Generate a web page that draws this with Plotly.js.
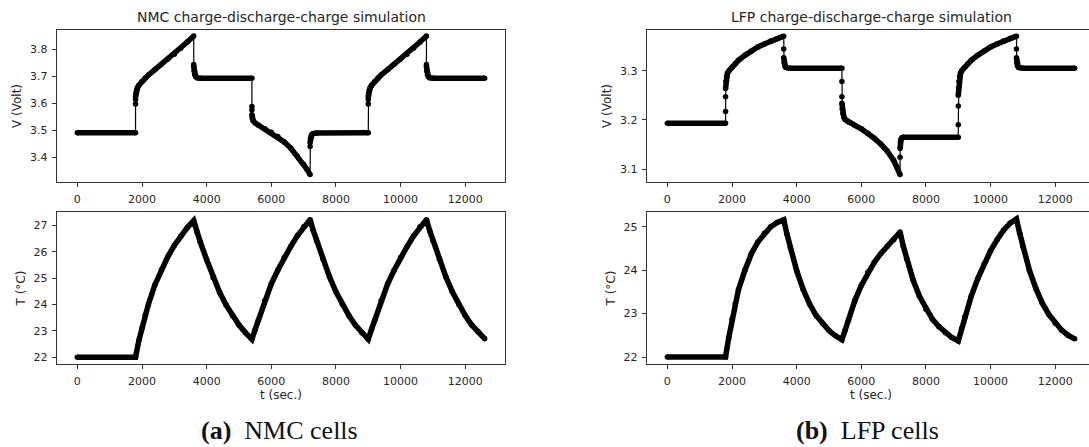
<!DOCTYPE html>
<html>
<head>
<meta charset="utf-8">
<script src="https://cdn.plot.ly/plotly-3.0.1.min.js"></script>
<style>
html,body{margin:0;padding:0;overflow:hidden;background:#fff;}
#chart{width:1100px;height:447px;}
</style>
</head>
<body>
<div id="chart"></div>
<script>
// ---------- data ----------
const panelTitles = ["NMC charge-discharge-charge simulation", "LFP charge-discharge-charge simulation"];
const captions = ["(a)", "NMC cells", "(b)", "LFP cells"];
const xTickVals = [0, 2000, 4000, 6000, 8000, 10000, 12000];

// NMC voltage (time in s, volt); repeated times mark instantaneous steps
const tNmcV = [0, 1800, 1800, 1800, 1800, 1810, 1830, 1860, 1900, 2000, 2100, 2200, 2400, 2600, 2800, 3000, 3200, 3400, 3600,
  3600, 3600, 3610, 3630, 3660, 3700, 3800, 5400,
  5400, 5400, 5400, 5410, 5440, 5500, 5600, 5800, 6000, 6200, 6400, 6600, 6800, 7000, 7100, 7200,
  7200, 7200, 7210, 7230, 7260, 7300, 7400, 9000,
  9000, 9000, 9000, 9010, 9030, 9060, 9100, 9200, 9300, 9400, 9600, 9800, 10000, 10200, 10400, 10600, 10800,
  10800, 10800, 10810, 10830, 10860, 10900, 11000, 12600];
const vNmc = [3.491, 3.491, 3.597, 3.614, 3.624, 3.636, 3.648, 3.658, 3.666, 3.681, 3.694, 3.705, 3.725, 3.745, 3.764, 3.782, 3.804, 3.827, 3.849,
  3.744, 3.736, 3.720, 3.707, 3.699, 3.695, 3.693, 3.693,
  3.588, 3.575, 3.558, 3.545, 3.535, 3.527, 3.519, 3.506, 3.493, 3.477, 3.457, 3.434, 3.405, 3.374, 3.356, 3.336,
  3.440, 3.455, 3.468, 3.478, 3.485, 3.488, 3.490, 3.491,
  3.597, 3.614, 3.624, 3.636, 3.648, 3.658, 3.666, 3.681, 3.694, 3.705, 3.725, 3.745, 3.764, 3.782, 3.804, 3.827, 3.849,
  3.744, 3.736, 3.720, 3.707, 3.699, 3.695, 3.693, 3.693];

// LFP voltage
const tLfpV = [0, 1800, 1800, 1800, 1800, 1810, 1830, 1860, 1920, 2000, 2100, 2200, 2400, 2600, 2800, 3000, 3200, 3400, 3600,
  3600, 3600, 3610, 3630, 3660, 3700, 3800, 5400,
  5400, 5400, 5400, 5410, 5430, 5460, 5500, 5600, 5800, 6000, 6200, 6400, 6600, 6800, 7000, 7100, 7200,
  7200, 7200, 7210, 7230, 7260, 7300, 9000,
  9000, 9000, 9000, 9010, 9020, 9040, 9070, 9120, 9200, 9300, 9400, 9600, 9800, 10000, 10200, 10400, 10600, 10800,
  10800, 10800, 10810, 10830, 10860, 10900, 11000, 12600];
const vLfp = [3.193, 3.193, 3.217, 3.247, 3.264, 3.278, 3.288, 3.295, 3.301, 3.307, 3.314, 3.321, 3.331, 3.340, 3.348, 3.354, 3.360, 3.365, 3.370,
  3.344, 3.326, 3.316, 3.310, 3.307, 3.306, 3.305, 3.305,
  3.278, 3.247, 3.234, 3.222, 3.213, 3.206, 3.201, 3.196, 3.189, 3.182, 3.173, 3.163, 3.151, 3.137, 3.118, 3.105, 3.089,
  3.124, 3.142, 3.155, 3.161, 3.164, 3.165, 3.165,
  3.190, 3.228, 3.250, 3.265, 3.278, 3.288, 3.295, 3.301, 3.307, 3.314, 3.321, 3.331, 3.340, 3.348, 3.354, 3.360, 3.365, 3.370,
  3.344, 3.326, 3.316, 3.310, 3.307, 3.306, 3.305, 3.305];

// temperature (time in s, deg C)
const tTemp = [0, 1800, 1900, 2000, 2100, 2200, 2400, 2600, 2800, 3000, 3200, 3400, 3600,
  3700, 3800, 4000, 4200, 4400, 4600, 4800, 5000, 5200, 5400,
  5500, 5600, 5800, 6000, 6200, 6400, 6600, 6800, 7000, 7200,
  7300, 7400, 7600, 7800, 8000, 8200, 8400, 8600, 8800, 9000,
  9100, 9200, 9400, 9600, 9800, 10000, 10200, 10400, 10600, 10800,
  10900, 11000, 11200, 11400, 11600, 11800, 12000, 12200, 12400, 12600];
const tempNmc = [22.0, 22.0, 22.62, 23.12, 23.60, 24.02, 24.75, 25.32, 25.82, 26.24, 26.60, 26.92, 27.18,
  26.75, 26.38, 25.70, 25.02, 24.46, 23.98, 23.57, 23.22, 22.93, 22.68,
  23.05, 23.40, 24.15, 24.78, 25.30, 25.78, 26.20, 26.60, 26.95, 27.22,
  26.80, 26.42, 25.72, 25.05, 24.48, 24.00, 23.58, 23.22, 22.93, 22.68,
  23.05, 23.40, 24.15, 24.78, 25.30, 25.78, 26.20, 26.60, 26.95, 27.22,
  26.80, 26.42, 25.72, 25.05, 24.48, 24.00, 23.58, 23.22, 22.95, 22.70];
const tempLfp = [22.0, 22.0, 22.45, 22.87, 23.23, 23.55, 24.00, 24.38, 24.65, 24.85, 25.00, 25.10, 25.16,
  24.83, 24.52, 23.99, 23.56, 23.22, 22.96, 22.77, 22.61, 22.49, 22.40,
  22.62, 22.85, 23.30, 23.65, 23.95, 24.18, 24.38, 24.55, 24.70, 24.88,
  24.55, 24.26, 23.78, 23.40, 23.10, 22.87, 22.70, 22.56, 22.45, 22.37,
  22.65, 22.92, 23.40, 23.80, 24.15, 24.45, 24.70, 24.92, 25.08, 25.18,
  24.85, 24.54, 24.00, 23.58, 23.24, 22.98, 22.78, 22.62, 22.50, 22.42];

// ---------- helpers ----------
function broken(t, v) { // thick curve: break where time repeats (instant step)
  const x = [], y = [];
  for (let i = 0; i < t.length; i++) {
    if (i > 0 && t[i] === t[i - 1]) { x.push(null); y.push(null); }
    x.push(t[i]); y.push(v[i]);
  }
  return {x, y};
}
function voltTraces(t, v, xa, ya) {
  const b = broken(t, v);
  return [
    {x: t, y: v, xaxis: xa, yaxis: ya, type: 'scatter', mode: 'lines+markers',
     line: {color: '#000', width: 1.2}, marker: {color: '#000', size: 5.5}, hoverinfo: 'skip'},
    {x: b.x, y: b.y, xaxis: xa, yaxis: ya, type: 'scatter', mode: 'lines', connectgaps: false,
     line: {color: '#000', width: 5.5}, hoverinfo: 'skip'}
  ];
}
function tempTrace(t, v, xa, ya) {
  return {x: t, y: v, xaxis: xa, yaxis: ya, type: 'scatter', mode: 'lines+markers',
    line: {color: '#000', width: 5.5}, marker: {color: '#000', size: 5.5}, hoverinfo: 'skip'};
}

const data = [
  ...voltTraces(tNmcV, vNmc, 'x', 'y'),
  tempTrace(tTemp, tempNmc, 'x2', 'y2'),
  ...voltTraces(tLfpV, vLfp, 'x3', 'y3'),
  tempTrace(tTemp, tempLfp, 'x4', 'y4')
];

// ---------- layout ----------
const W = 1100, H = 447;
const tickFont = {family: 'DejaVu Sans, sans-serif', size: 11, color: '#262626'};
const labFont = {family: 'DejaVu Sans, sans-serif', size: 12, color: '#262626'};
function xAx(x0, x1, anchor, withTitle) {
  const a = {domain: [x0 / W, x1 / W], anchor: anchor, range: [-630, 13230],
    tickvals: xTickVals, ticktext: xTickVals.map(String),
    showline: true, mirror: true, linecolor: '#333', linewidth: 1.2,
    ticks: 'outside', ticklen: 4, tickwidth: 1, tickcolor: '#333', ticklabelstandoff: 3,
    showgrid: false, zeroline: false, tickfont: tickFont, fixedrange: true};
  if (withTitle) a.title = {text: 't (sec.)', font: labFont, standoff: 2};
  return a;
}
function yAx(y0, y1, anchor, range, dtick, fmt, title) {
  return {domain: [1 - y1 / H, 1 - y0 / H], anchor: anchor, range: range,
    tick0: 0, dtick: dtick, tickformat: fmt,
    showline: true, mirror: true, linecolor: '#333', linewidth: 1.2,
    ticks: 'outside', ticklen: 4, tickwidth: 1, tickcolor: '#333', ticklabelstandoff: 2,
    showgrid: false, zeroline: false, tickfont: tickFont, fixedrange: true,
    title: {text: title, font: labFont, standoff: 5}};
}
const LX0 = 57, LX1 = 505, RX0 = 647, RX1 = 1095;
const TY0 = 30, TY1 = 182, BY0 = 212, BY1 = 364;

const layout = {
  width: W, height: H,
  margin: {l: 0, r: 0, t: 0, b: 0},
  paper_bgcolor: '#fff', plot_bgcolor: '#fff',
  showlegend: false,
  font: {family: 'DejaVu Sans, sans-serif', color: '#262626'},
  xaxis: xAx(LX0, LX1, 'y', false),
  yaxis: yAx(TY0, TY1, 'x', [3.3085, 3.8715], 0.1, '.1f', 'V (Volt)'),
  xaxis2: xAx(LX0, LX1, 'y2', true),
  yaxis2: yAx(BY0, BY1, 'x2', [21.74, 27.51], 1, 'd', 'T (°C)'),
  xaxis3: xAx(RX0, RX1, 'y3', false),
  yaxis3: yAx(TY0, TY1, 'x3', [3.074, 3.3825], 0.1, '.1f', 'V (Volt)'),
  xaxis4: xAx(RX0, RX1, 'y4', true),
  yaxis4: yAx(BY0, BY1, 'x4', [21.84, 25.34], 1, 'd', 'T (°C)'),
  annotations: [
    {text: panelTitles[0], xref: 'paper', yref: 'paper', x: (LX0 + LX1) / 2 / W, y: 1 - 17 / H,
     xanchor: 'center', yanchor: 'middle', showarrow: false,
     font: {family: 'DejaVu Sans, sans-serif', size: 14, color: '#262626'}},
    {text: panelTitles[1], xref: 'paper', yref: 'paper', x: (RX0 + RX1) / 2 / W, y: 1 - 17 / H,
     xanchor: 'center', yanchor: 'middle', showarrow: false,
     font: {family: 'DejaVu Sans, sans-serif', size: 14, color: '#262626'}},
    {text: '<b>' + captions[0] + '</b>\u00a0\u00a0' + captions[1], xref: 'paper', yref: 'paper',
     x: 279 / W, y: 1 - 430 / H, xanchor: 'center', yanchor: 'middle', showarrow: false,
     font: {family: 'Liberation Serif, serif', size: 26, color: '#111'}},
    {text: '<b>' + captions[2] + '</b>\u00a0\u00a0' + captions[3], xref: 'paper', yref: 'paper',
     x: 867 / W, y: 1 - 430 / H, xanchor: 'center', yanchor: 'middle', showarrow: false,
     font: {family: 'Liberation Serif, serif', size: 26, color: '#111'}}
  ]
};

Plotly.newPlot('chart', data, layout, {staticPlot: true, displayModeBar: false});
</script>
</body>
</html>
